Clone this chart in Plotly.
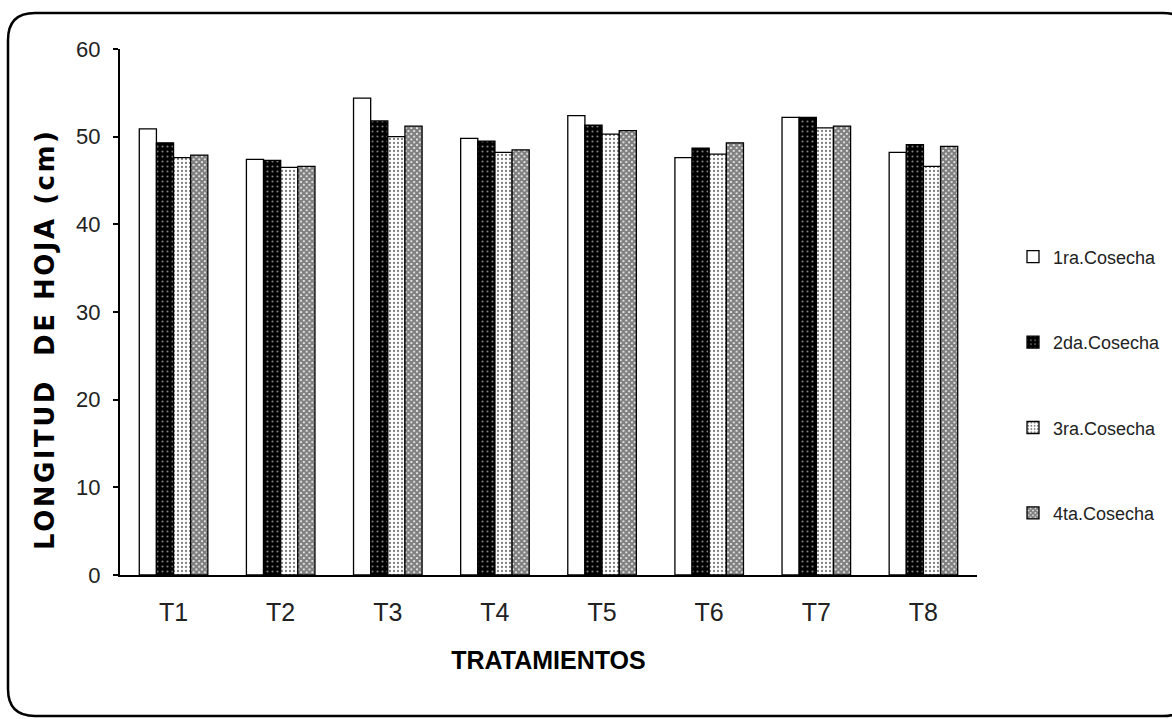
import plotly.graph_objects as go

categories = ["T1", "T2", "T3", "T4", "T5", "T6", "T7", "T8"]
cosecha1 = [50.9, 47.4, 54.4, 49.8, 52.4, 47.6, 52.2, 48.2]
cosecha2 = [49.3, 47.3, 51.8, 49.5, 51.3, 48.7, 52.2, 49.1]
cosecha3 = [47.6, 46.5, 50.0, 48.2, 50.3, 48.0, 51.0, 46.6]
cosecha4 = [47.9, 46.6, 51.2, 48.5, 50.7, 49.3, 51.2, 48.9]
series_names = ["1ra.Cosecha", "2da.Cosecha", "3ra.Cosecha", "4ta.Cosecha"]
y_title = "LONGITUD  DE HOJA (cm)"
x_title = "TRATAMIENTOS"

W, H = 1172, 719
L, R, T, B = 120, 977, 49, 575

styles = [
    dict(color="white", pattern=dict(shape="")),
    dict(color="black", pattern=dict(shape=".", fgcolor="white", bgcolor="black", size=5, solidity=0.15, fillmode="overlay")),
    dict(color="white", pattern=dict(shape=".", fgcolor="black", bgcolor="white", size=4, solidity=0.25, fillmode="overlay")),
    dict(color="white", pattern=dict(shape="x", fgcolor="black", bgcolor="white", size=4, solidity=0.8, fillmode="overlay")),
]

fig = go.Figure()
for i, (name, vals, st) in enumerate(zip(series_names, [cosecha1, cosecha2, cosecha3, cosecha4], styles)):
    fig.add_trace(go.Bar(
        x=categories, y=vals, name=name, legendgroup=f"g{i}",
        marker=dict(color=st["color"], pattern=st["pattern"],
                    line=dict(color="black", width=1.3)),
    ))

font_main = "Liberation Sans, Arial"

def px(x):
    return (x - L) / (R - L)

def py(y):
    return (B - y) / (B - T)

fig.update_layout(
    width=W, height=H,
    margin=dict(l=L, r=W - R, t=T, b=H - B, pad=0, autoexpand=False),
    paper_bgcolor="white", plot_bgcolor="white",
    barmode="group", bargap=0.36, bargroupgap=0.0,
    font=dict(family=font_main, color="#222", size=18),
    showlegend=True,
    legend=dict(x=px(1013), y=py(385), xanchor="left", yanchor="middle",
                font=dict(family=font_main, size=18, color="#222"),
                tracegroupgap=59, itemwidth=30, traceorder="grouped",
                bgcolor="rgba(0,0,0,0)"),
    xaxis=dict(
        showline=True, linecolor="black", linewidth=2,
        ticks="", showgrid=False, ticklabelstandoff=14,
        tickfont=dict(family=font_main, size=25, color="#222"),
        title=dict(text=f"<b>{x_title}</b>", standoff=26,
                   font=dict(family=font_main, size=25, color="black")),
    ),
    yaxis=dict(
        range=[0, 60], dtick=10,
        showline=True, linecolor="black", linewidth=2,
        ticks="outside", ticklen=5, tickwidth=2, tickcolor="black",
        showgrid=False, zeroline=False, ticklabelstandoff=8,
        tickfont=dict(family=font_main, size=22, color="#222"),
    ),
    annotations=[dict(
        text=f'<span style="letter-spacing:2.5px"><b>{y_title}</b></span>',
        xref="paper", yref="paper", x=px(45), y=py(340),
        xanchor="center", yanchor="middle", textangle=-90, showarrow=False,
        font=dict(family="DejaVu Sans, Verdana", size=26, color="black"),
    )],
)

# rounded border around the whole figure
x0, x1, y0, y1, r = 8, 1190, 13, 716, 27
path = (
    f"M {px(x0 + r)},{py(y0)} L {px(x1 - r)},{py(y0)} "
    f"Q {px(x1)},{py(y0)} {px(x1)},{py(y0 + r)} "
    f"L {px(x1)},{py(y1 - r)} Q {px(x1)},{py(y1)} {px(x1 - r)},{py(y1)} "
    f"L {px(x0 + r)},{py(y1)} Q {px(x0)},{py(y1)} {px(x0)},{py(y1 - r)} "
    f"L {px(x0)},{py(y0 + r)} Q {px(x0)},{py(y0)} {px(x0 + r)},{py(y0)} Z"
)
fig.add_shape(type="path", path=path, xref="paper", yref="paper",
              line=dict(color="black", width=2.5), layer="below")

fig.write_html("out.html", config={"displayModeBar": False},
               post_script="document.body.style.margin='0';document.body.style.overflow='hidden';")
